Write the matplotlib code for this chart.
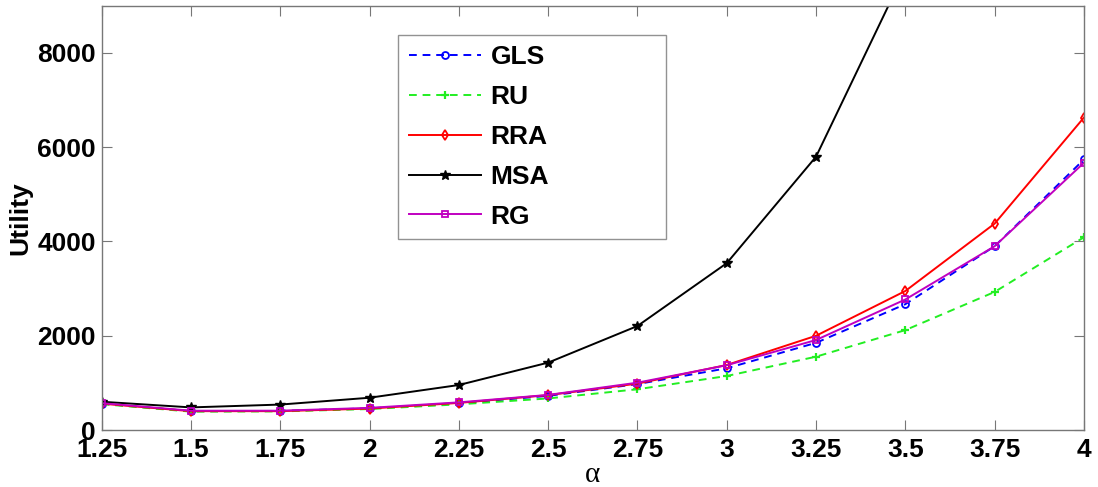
import matplotlib
matplotlib.use("Agg")
import matplotlib.pyplot as plt

alpha = [1.25, 1.5, 1.75, 2, 2.25, 2.5, 2.75, 3, 3.25, 3.5, 3.75, 4]
xtick_labels = ["1.25", "1.5", "1.75", "2", "2.25", "2.5", "2.75", "3", "3.25", "3.5", "3.75", "4"]

gls = [560, 400, 405, 460, 565, 725, 975, 1310, 1850, 2670, 3900, 5740]
ru = [550, 390, 395, 445, 545, 670, 865, 1146, 1556, 2120, 2930, 4090]
rra = [560, 400, 400, 455, 575, 740, 985, 1380, 2000, 2950, 4380, 6630]
msa = [600, 480, 540, 685, 955, 1430, 2207, 3540, 5800, 9750, 16000, 25000]
rg = [570, 410, 410, 470, 587, 745, 1005, 1375, 1910, 2770, 3900, 5670]

plt.rcParams['font.family'] = ['Liberation Sans', 'DejaVu Sans']
plt.rcParams['font.weight'] = 'bold'

fig = plt.figure(figsize=(10.98, 4.87), dpi=100)
ax = fig.add_axes([0.0926, 0.117, 0.8946, 0.871])

lw = 1.4
ax.plot(alpha, gls, color='#0000ff', ls=(0, (4, 3)), lw=lw, marker='o', ms=5, mfc='none', mew=1.3, label='GLS')
ax.plot(alpha, ru, color='#22ee22', ls=(0, (4, 3)), lw=lw, marker='+', ms=6, mew=1.6, label='RU')
ax.plot(alpha, rra, color='#ff0000', lw=lw, marker='d', ms=5, mfc='none', mew=1.3, label='RRA')
ax.plot(alpha, msa, color='black', lw=lw, marker='*', ms=7, label='MSA')
ax.plot(alpha, rg, color='#c000c0', lw=lw, marker='s', ms=5, mfc='none', mew=1.3, label='RG')

ax.set_xlim(1.25, 4)
ax.set_ylim(0, 9000)
ax.set_xticks(alpha)
ax.set_xticklabels(xtick_labels)
ax.set_yticks([0, 2000, 4000, 6000, 8000])

ax.tick_params(direction='in', length=7, width=0.8, color='#777777', top=True, right=True,
               labelsize=19, pad=4)
ax.tick_params(axis='x', pad=6)
for s in ax.spines.values():
    s.set_color('#777777')
    s.set_linewidth(1.0)

ax.set_ylabel('Utility', fontsize=19, fontweight='bold')
ax.yaxis.set_label_coords(-0.071, 0.5)
ax.set_xlabel('α', fontsize=21, fontweight='normal', family='Liberation Serif', labelpad=0)

leg = ax.legend(loc='center', bbox_to_anchor=(0.3017, 0.691, 0.2728, 0.0), mode='expand',
                fontsize=19, frameon=True, fancybox=False, borderaxespad=0,
                handlelength=2.75, handletextpad=0.35, labelspacing=0.6,
                borderpad=0.4)
leg.get_frame().set_edgecolor('#777777')
leg.get_frame().set_linewidth(1.0)

fig.savefig('out.png', dpi=100)
